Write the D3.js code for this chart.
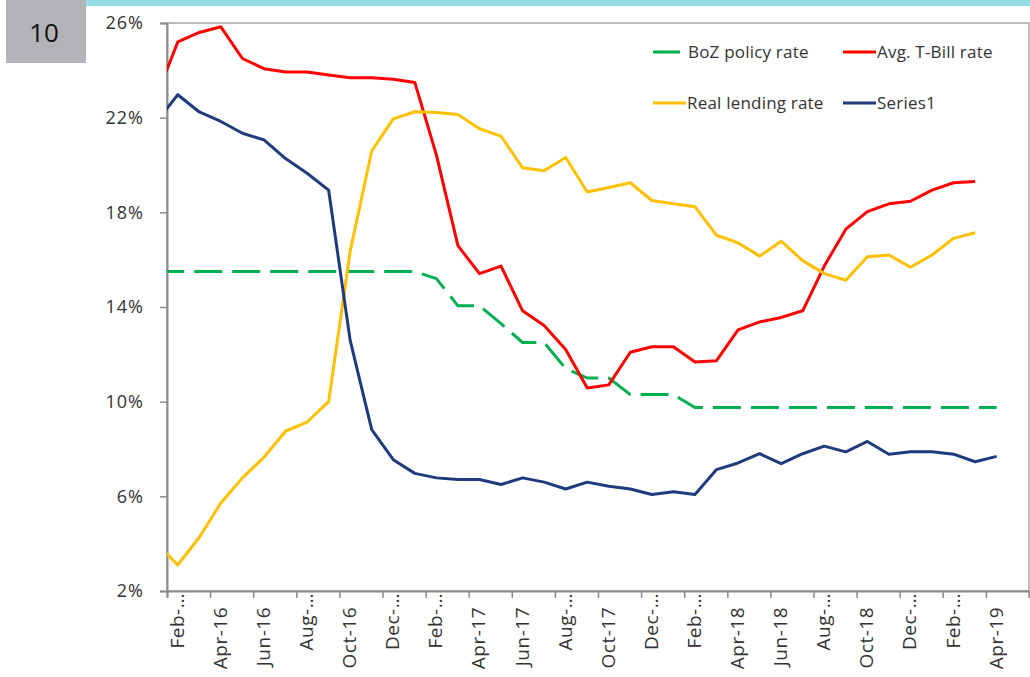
<!DOCTYPE html>
<html>
<head>
<meta charset="utf-8">
<script src="https://cdn.jsdelivr.net/npm/d3@7"></script>
<style>
  body { margin: 0; background: #fff; }
  text { font-family: "Open Sans", sans-serif; fill: #333; }
</style>
</head>
<body>
<div id="chart"></div>
<script>
// months Jan-16 .. Apr-19 (Jan-16 sits just left of the axis and gets clipped)
const months = ['Jan-16','Feb-16','Mar-16','Apr-16','May-16','Jun-16','Jul-16','Aug-16','Sep-16','Oct-16','Nov-16','Dec-16',
  'Jan-17','Feb-17','Mar-17','Apr-17','May-17','Jun-17','Jul-17','Aug-17','Sep-17','Oct-17','Nov-17','Dec-17',
  'Jan-18','Feb-18','Mar-18','Apr-18','May-18','Jun-18','Jul-18','Aug-18','Sep-18','Oct-18','Nov-18','Dec-18',
  'Jan-19','Feb-19','Mar-19','Apr-19'];

const policyRate = [15.5,15.5,15.5,15.5,15.5,15.5,15.5,15.5,15.5,15.5,15.5,15.5,15.5,15.2,14.05,14.05,13.3,12.5,12.5,11.4,
  11.0,11.0,10.3,10.3,10.3,9.75,9.75,9.75,9.75,9.75,9.75,9.75,9.75,9.75,9.75,9.75,9.75,9.75,9.75,9.75];
const tbillRate = [22.88,25.2,25.6,25.84,24.5,24.07,23.93,23.93,23.8,23.69,23.69,23.62,23.49,20.43,16.59,15.41,15.73,13.84,13.22,12.2,
  10.58,10.71,12.09,12.32,12.32,11.68,11.73,13.03,13.37,13.56,13.84,15.73,17.29,18.03,18.36,18.47,18.94,19.25,19.3,null];
const realLending = [4.04,3.1,4.27,5.72,6.78,7.65,8.75,9.14,10.0,16.35,20.59,21.95,22.25,22.22,22.13,21.53,21.22,19.88,19.76,20.32,
  18.86,19.05,19.25,18.5,18.36,18.24,17.03,16.71,16.15,16.78,15.96,15.41,15.13,16.12,16.2,15.68,16.2,16.9,17.14,null];
const series1 = [21.81,22.97,22.24,21.84,21.34,21.06,20.27,19.65,18.94,12.59,8.82,7.55,6.97,6.78,6.71,6.71,6.5,6.78,6.6,6.31,
  6.6,6.43,6.31,6.08,6.19,6.08,7.13,7.41,7.8,7.38,7.8,8.12,7.88,8.32,7.78,7.88,7.88,7.78,7.46,7.69];

// category labels shown on the axis (every second month from Feb-16)
const tickLabels = ['Feb-…','Apr-16','Jun-16','Aug-…','Oct-16','Dec-…','Feb-…','Apr-17','Jun-17','Aug-…',
  'Oct-17','Dec-…','Feb-…','Apr-18','Jun-18','Aug-…','Oct-18','Dec-…','Feb-…','Apr-19'];
const yTicks = [2, 6, 10, 14, 18, 22, 26];

const series = [
  {name: 'BoZ policy rate', values: policyRate, color: '#00b050', dash: '28,10'},
  {name: 'Avg. T-Bill rate', values: tbillRate, color: '#ff0000'},
  {name: 'Real lending rate', values: realLending, color: '#ffc000'},
  {name: 'Series1', values: series1, color: '#1f3b7e'}
];

const W = 1030, H = 677;
const plotBox = {left: 167, right: 1029, top: 23, bottom: 591};

const svg = d3.select('#chart').append('svg')
    .attr('width', W)
    .attr('height', H);

// header decorations
svg.append('rect').attr('x', 86).attr('y', 0).attr('width', W - 86).attr('height', 6).attr('fill', '#97dce6');
svg.append('rect').attr('x', 6).attr('y', 0).attr('width', 80).attr('height', 63).attr('fill', '#b1b3b6');
svg.append('text').attr('x', 44).attr('y', 42).attr('text-anchor', 'middle')
    .style('font-size', '26px').style('fill', '#111').text('10');

// category position: month index i sits at the centre of its slot, Feb-16 is the first slot
const x = d3.scaleLinear().domain([0.5, 40.5]).range([plotBox.left, plotBox.right]);
const y = d3.scaleLinear().domain([2, 26]).range([plotBox.bottom, plotBox.top]);

// frame
svg.append('rect')
    .attr('x', plotBox.left).attr('y', plotBox.top)
    .attr('width', plotBox.right - plotBox.left).attr('height', plotBox.bottom - plotBox.top)
    .attr('fill', 'none').attr('stroke', '#a6a6a6').attr('stroke-width', 1.5);

// y axis
const yAxis = d3.axisLeft(y).tickValues(yTicks).tickSize(7).tickPadding(16).tickFormat(d => d + '%');
const gy = svg.append('g').attr('transform', `translate(${plotBox.left},0)`).call(yAxis);
gy.select('.domain').attr('stroke', '#8c8c8c').attr('stroke-width', 2);
gy.selectAll('.tick line').attr('stroke', '#8c8c8c').attr('stroke-width', 1.5);
gy.selectAll('.tick text').style('font-size', '18px').style('font-family', '"Open Sans", sans-serif')
    .attr('fill', '#333').attr('letter-spacing', '1px');

// x axis: ticks on slot boundaries every two months
const tickBounds = d3.range(0, 20).map(k => 0.5 + 2 * k).concat([40.5]);
const gx = svg.append('g').attr('transform', `translate(0,${plotBox.bottom})`)
    .call(d3.axisBottom(x).tickValues(tickBounds).tickSize(7).tickFormat(''));
gx.select('.domain').attr('stroke', '#8c8c8c').attr('stroke-width', 2);
gx.selectAll('.tick line').attr('stroke', '#8c8c8c').attr('stroke-width', 1.5);

svg.append('g').selectAll('text')
    .data(tickLabels)
    .join('text')
    .attr('transform', (d, k) => {
        const cx = x(1 + 2 * k);
        const ty = d.endsWith('…') ? 593 : 607;
        return `translate(${cx + 6},${ty}) rotate(-90)`;
    })
    .attr('text-anchor', 'end')
    .style('font-size', '19px')
    .attr('letter-spacing', '0.5px')
    .text(d => d);

// lines, clipped to the plot area
svg.append('clipPath').attr('id', 'plot-clip')
    .append('rect').attr('x', plotBox.left).attr('y', plotBox.top)
    .attr('width', plotBox.right - plotBox.left).attr('height', plotBox.bottom - plotBox.top);

const line = d3.line()
    .defined(d => d != null)
    .x((d, i) => x(i))
    .y(d => y(d));

const plot = svg.append('g').attr('clip-path', 'url(#plot-clip)');
plot.selectAll('path')
    .data(series)
    .join('path')
    .attr('fill', 'none')
    .attr('stroke', d => d.color)
    .attr('stroke-width', 3)
    .attr('stroke-linejoin', 'round')
    .attr('stroke-dasharray', d => d.dash || null)
    .attr('d', d => line(d.values));

// legend
const legendPos = [[653, 52], [843, 52], [653, 103], [843, 103]];
const legend = svg.append('g').selectAll('g')
    .data(series)
    .join('g')
    .attr('transform', (d, i) => `translate(${legendPos[i][0]},${legendPos[i][1]})`);
legend.append('line')
    .attr('x1', 0).attr('x2', (d, i) => i === 0 ? 27 : 33)
    .attr('stroke', d => d.color).attr('stroke-width', 3);
legend.append('text')
    .attr('x', (d, i) => i === 0 ? 35 : 34)
    .attr('y', 6)
    .style('font-size', '17px')
    .attr('letter-spacing', '0.2px')
    .text(d => d.name);
</script>
</body>
</html>
